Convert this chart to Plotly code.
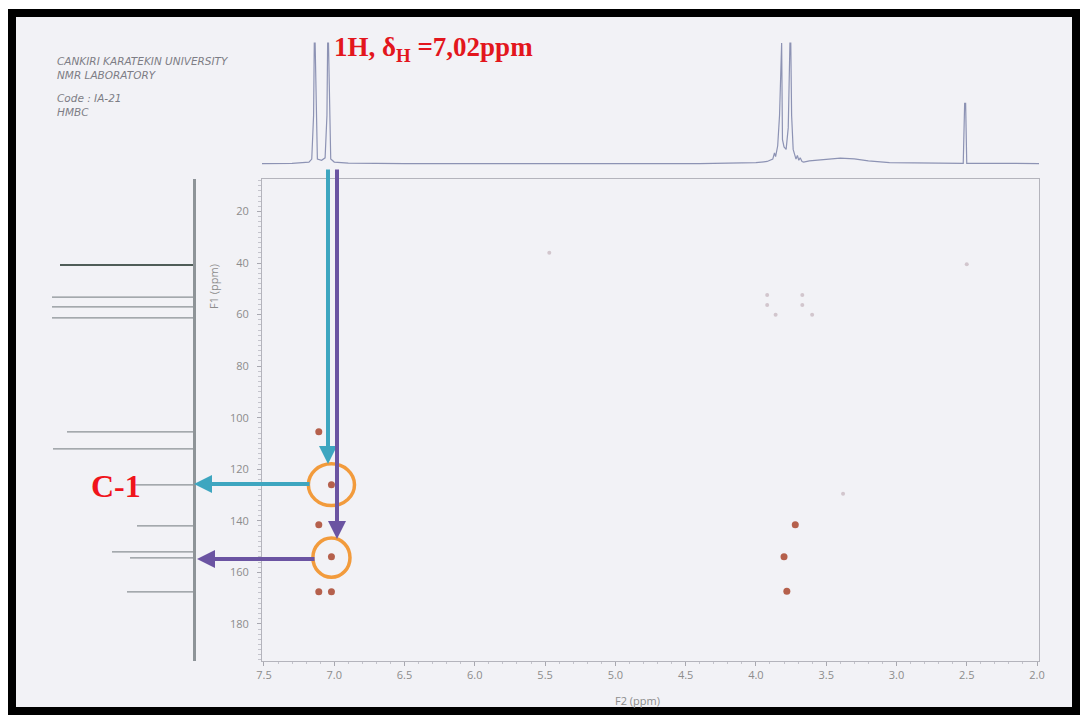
import plotly.graph_objects as go

W, H = 1080, 715
def px(x): return x / W
def py(y): return 1 - y / H

# ---------------- data ----------------
# 1H projection (F2, ppm) and intensity (%)
h1_ppm = [7.514, 7.30, 7.18, 7.16, 7.147, 7.142, 7.136, 7.12, 7.09, 7.065, 7.052, 7.047, 7.041, 7.025, 7.00, 6.90, 6.50,
          4.40, 4.00, 3.92, 3.88, 3.868, 3.86, 3.845, 3.832, 3.822, 3.817, 3.811, 3.80, 3.785, 3.77, 3.758, 3.752, 3.746,
          3.735, 3.715, 3.705, 3.695, 3.685, 3.672, 3.66, 3.62, 3.50, 3.40, 3.30, 3.20, 3.05, 2.70,
          2.525, 2.515, 2.508, 2.50, 2.30, 1.986]
h1_int = [0.3, 0.5, 1.5, 4, 40, 100, 100, 4, 3, 5, 40, 100, 100, 4, 1.5, 0.6, 0.3,
          0.3, 1.0, 2.0, 4, 9, 6, 15, 40, 100, 100, 20, 14, 12, 30, 100, 100, 40,
          12, 4, 7, 3, 5, 2, 1.5, 2.5, 3.5, 4.8, 4.2, 2.5, 1.0, 0.5,
          0.5, 50, 50, 0.5, 0.3, 0.3]

# 13C projection (F1, ppm) and stick length
c13_ppm = [53.2, 57.0, 61.3, 105.5, 112.1, 126.1, 142.0, 152.1, 154.4, 167.6]
c13_int = [141, 141, 141, 126, 140, 60, 56, 81, 63, 66]
solvent_c13_ppm = [40.8]
solvent_c13_int = [133]

# HMBC cross peaks (F2 1H ppm, F1 13C ppm)
cp_h = [7.11, 7.02, 7.11, 7.02, 7.11, 7.02, 3.72, 3.80, 3.78]
cp_c = [105.5, 126.0, 141.5, 154.0, 167.5, 167.5, 141.5, 154.0, 167.3]
# weak / noise cross peaks
weak_h = [3.92, 3.92, 3.67, 3.67, 3.86, 3.60, 5.47, 2.50, 3.38]
weak_c = [52.4, 56.3, 52.4, 56.3, 60.1, 60.1, 36.0, 40.5, 129.5]

# highlighted correlations (circled)
hl_h = [7.02, 7.02]
hl_c = [126.0, 154.3]
hl_rx = [0.164, 0.132]
hl_ry = [8.1, 7.6]

x_ticks = [7.5, 7.0, 6.5, 6.0, 5.5, 5.0, 4.5, 4.0, 3.5, 3.0, 2.5, 2.0]
y_ticks = [20, 40, 60, 80, 100, 120, 140, 160, 180]

# ---------------- figure ----------------
fig = go.Figure()

# 1H top trace
fig.add_trace(go.Scatter(x=h1_ppm, y=h1_int, mode="lines", xaxis="x2", yaxis="y2",
                         line=dict(color="#8d93b4", width=1.2), hoverinfo="skip", showlegend=False))

# 13C sticks
def sticks(ppms, ints):
    xs, ys = [], []
    for p, v in zip(ppms, ints):
        xs += [0, v, None]
        ys += [p, p, None]
    return xs, ys

sx, sy = sticks(c13_ppm, c13_int)
fig.add_trace(go.Scatter(x=sx, y=sy, mode="lines", xaxis="x3", yaxis="y3",
                         line=dict(color="#8a9094", width=1.3), hoverinfo="skip", showlegend=False))
sx, sy = sticks(solvent_c13_ppm, solvent_c13_int)
fig.add_trace(go.Scatter(x=sx, y=sy, mode="lines", xaxis="x3", yaxis="y3",
                         line=dict(color="#4f5d58", width=2), hoverinfo="skip", showlegend=False))

# cross peaks
fig.add_trace(go.Scatter(x=weak_h, y=weak_c, mode="markers",
                         marker=dict(color="#d2c6cd", size=4), showlegend=False))
fig.add_trace(go.Scatter(x=cp_h, y=cp_c, mode="markers",
                         marker=dict(color="#b5604c", size=7, line=dict(width=0)), showlegend=False))

axis_font = dict(family="Open Sans", size=11, color="#8c8c8c")

fig.update_layout(
    width=W, height=H, autosize=False,
    margin=dict(l=0, r=0, t=0, b=0, pad=0),
    paper_bgcolor="white",
    plot_bgcolor="rgba(0,0,0,0)",
    showlegend=False,
    xaxis=dict(domain=[px(262), px(1039)], range=[7.514, 1.986], anchor="y",
               tickvals=x_ticks, ticktext=[f"{v:.1f}" for v in x_ticks],
               ticks="outside", ticklen=4, tickcolor="#a8a8b0", tickfont=axis_font,
               showline=True, mirror=True, linecolor="#b4b4bc", linewidth=1,
               showgrid=False, zeroline=False, automargin=False,
               minor=dict(ticks="outside", dtick=0.1, ticklen=2, tickcolor="#c4c4cc")),
    yaxis=dict(domain=[py(661), py(179)], range=[194.4, 7.4], anchor="x",
               tickvals=y_ticks, ticks="outside", ticklen=4, tickcolor="#a8a8b0",
               tickfont=axis_font, ticklabelstandoff=6,
               showline=True, mirror=True, linecolor="#b4b4bc", linewidth=1,
               showgrid=False, zeroline=False, automargin=False,
               minor=dict(ticks="outside", dtick=2, ticklen=3, tickcolor="#c4c4cc")),
    xaxis2=dict(domain=[px(262), px(1039)], matches="x", anchor="y2", visible=False),
    yaxis2=dict(domain=[py(179), py(40)], range=[-12.5, 102.5], anchor="x2", visible=False),
    xaxis3=dict(domain=[px(40), px(193)], range=[153, 0], anchor="y3", visible=False),
    yaxis3=dict(domain=[py(661), py(179)], matches="y", anchor="x3", side="right",
                showline=True, linecolor="#8e9498", linewidth=2.5, ticks="",
                showticklabels=False, showgrid=False, zeroline=False, automargin=False),
)

shapes = [
    dict(type="rect", xref="paper", yref="paper", x0=px(12), x1=px(1076), y0=py(711), y1=py(13),
         line=dict(color="black", width=8), fillcolor="#f2f2f6", layer="below"),
]
for h, c, rx, ry in zip(hl_h, hl_c, hl_rx, hl_ry):
    shapes.append(dict(type="circle", xref="x", yref="y", x0=h - rx, x1=h + rx, y0=c - ry, y1=c + ry,
                       line=dict(color="#f29b3c", width=3.5)))
fig.update_layout(shapes=shapes)

cyan = "#3ea6c0"
purple = "#6b54a2"
def arrow(hx, hy, tx, ty, color):
    return dict(xref="paper", yref="paper", x=px(hx), y=py(hy), ax=tx - hx, ay=ty - hy,
                axref="pixel", ayref="pixel", text="", showarrow=True,
                arrowhead=2, arrowsize=0.9, arrowwidth=4, arrowcolor=color)

annotations = [
    arrow(328, 464, 328, 168, cyan),
    arrow(194, 484, 311, 484, cyan),
    arrow(337, 539, 337, 168, purple),
    arrow(197, 559, 316, 559, purple),
    dict(xref="paper", yref="paper", x=px(332), y=py(49), xanchor="left", yanchor="middle",
         text="<b>1H, δ<sub>H</sub> =7,02ppm</b>", showarrow=False,
         font=dict(family="Liberation Serif", size=27, color="#e3161d")),
    dict(xref="paper", yref="paper", x=px(116), y=py(486), xanchor="center", yanchor="middle",
         text="<b>C-1</b>", showarrow=False,
         font=dict(family="Liberation Serif", size=32, color="#f0141b")),
    dict(xref="paper", yref="paper", x=px(213), y=py(287), xanchor="center", yanchor="middle",
         text="F1 (ppm)", textangle=-90, showarrow=False, font=axis_font),
    dict(xref="paper", yref="paper", x=px(637), y=py(700), xanchor="center", yanchor="middle",
         text="F2 (ppm)", showarrow=False, font=axis_font),
]
header_blocks = [["CANKIRI KARATEKIN UNIVERSITY", "NMR LABORATORY"], ["Code : IA-21", "HMBC"]]
header_y = [68, 105]
for lines, yy in zip(header_blocks, header_y):
    annotations.append(dict(xref="paper", yref="paper", x=px(55), y=py(yy), xanchor="left",
                            yanchor="middle", align="left",
                            text="<i>" + "<br>".join(lines) + "</i>", showarrow=False,
                            font=dict(family="DejaVu Sans", size=10.5, color="#7d7d85")))
fig.update_layout(annotations=annotations)

fig.write_html("out.html", config={"responsive": False, "displayModeBar": False},
               post_script="document.body.style.margin='0';")
